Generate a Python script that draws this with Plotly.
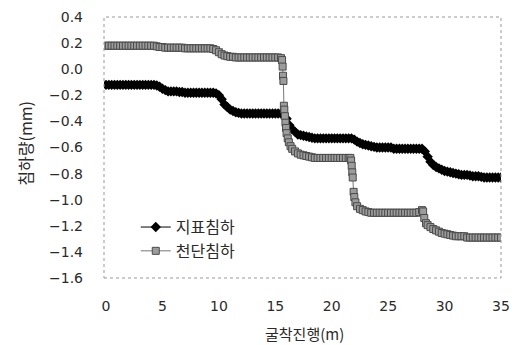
import plotly.graph_objects as go

# 지표침하 (surface settlement)
x_surface = [0, 0.25, 0.5, 0.75, 1, 1.25, 1.5, 1.75, 2, 2.25, 2.5, 2.75, 3, 3.25, 3.5, 3.75,
             4, 4.25, 4.5, 4.75, 5, 5.25, 5.5, 5.75, 6, 6.25, 6.5, 6.75, 7, 7.25, 7.5, 7.75,
             8, 8.25, 8.5, 8.75, 9, 9.25, 9.5, 9.75, 10, 10.25, 10.5, 10.75, 11, 11.25, 11.5, 11.75,
             12, 12.25, 12.5, 12.75, 13, 13.25, 13.5, 13.75, 14, 14.25, 14.5, 14.75,
             15, 15.25, 15.5, 15.75, 16, 16.25, 16.5, 16.75, 17, 17.25, 17.5, 17.75,
             18, 18.25, 18.5, 18.75, 19, 19.25, 19.5, 19.75, 20, 20.25, 20.5, 20.75,
             21, 21.25, 21.5, 21.75, 22, 22.25, 22.5, 22.75, 23, 23.25, 23.5, 23.75,
             24, 24.25, 24.5, 24.75, 25, 25.25, 25.5, 25.75, 26, 26.25, 26.5, 26.75,
             27, 27.25, 27.5, 27.75, 28, 28.25, 28.5, 28.75, 29, 29.25, 29.5, 29.75,
             30, 30.25, 30.5, 30.75, 31, 31.25, 31.5, 31.75, 32, 32.25, 32.5, 32.75,
             33, 33.25, 33.5, 33.75, 34, 34.25, 34.5, 34.75, 35]
y_surface = [-0.12, -0.12, -0.12, -0.12,
             -0.12, -0.12, -0.12, -0.12,
             -0.12, -0.12, -0.12, -0.12,
             -0.12, -0.12, -0.12, -0.12,
             -0.12, -0.12, -0.125, -0.135,
             -0.15, -0.16, -0.17, -0.17,
             -0.17, -0.17, -0.175, -0.175,
             -0.18, -0.18, -0.18, -0.18,
             -0.18, -0.18, -0.18, -0.18,
             -0.18, -0.18, -0.18, -0.185,
             -0.20, -0.23, -0.27, -0.29,
             -0.31, -0.32, -0.33, -0.335,
             -0.34, -0.34, -0.34, -0.34,
             -0.34, -0.34, -0.34, -0.34,
             -0.34, -0.34, -0.34, -0.34,
             -0.34, -0.34, -0.34, -0.35,
             -0.38, -0.43, -0.46, -0.48,
             -0.50, -0.505, -0.51, -0.515,
             -0.52, -0.525, -0.53, -0.53,
             -0.53, -0.53, -0.53, -0.53,
             -0.53, -0.53, -0.53, -0.53,
             -0.53, -0.53, -0.53, -0.53,
             -0.54, -0.555, -0.565, -0.575,
             -0.58, -0.585, -0.59, -0.595,
             -0.60, -0.60, -0.60, -0.60,
             -0.60, -0.60, -0.61, -0.61,
             -0.61, -0.61, -0.61, -0.61,
             -0.61, -0.61, -0.61, -0.61,
             -0.61, -0.63, -0.67, -0.71,
             -0.735, -0.75, -0.76, -0.77,
             -0.78, -0.785, -0.79, -0.795,
             -0.80, -0.805, -0.81, -0.81,
             -0.81, -0.815, -0.82, -0.82,
             -0.82, -0.825, -0.83, -0.83,
             -0.83, -0.83, -0.83, -0.83,
             -0.83]

# 천단침하 (crown settlement)
x_crown = [0, 0.25, 0.5, 0.75, 1, 1.25, 1.5, 1.75, 2, 2.25, 2.5, 2.75, 3, 3.25, 3.5, 3.75, 4, 4.25,
           4.5, 4.75, 5, 5.25, 5.5, 5.75, 6, 6.25, 6.5, 6.75,
           7, 7.25, 7.5, 7.75, 8, 8.25, 8.5, 8.75, 9, 9.25,
           9.5, 9.75, 10, 10.25, 10.5, 10.75, 11, 11.25,
           11.5, 11.75, 12, 12.25, 12.5, 12.75, 13, 13.25, 13.5, 13.75, 14, 14.25, 14.5, 14.75, 15, 15.25,
           15.5, 15.6, 15.65, 15.68, 15.72, 15.76, 15.8, 15.85, 15.9, 15.95, 16.0, 16.1, 16.2, 16.35,
           16.5, 16.75, 17, 17.25, 17.5, 17.75, 18, 18.25,
           18.5, 18.75, 19, 19.25, 19.5, 19.75, 20, 20.25, 20.5, 20.75, 21, 21.25, 21.5,
           21.65, 21.72, 21.77, 21.82, 21.86, 21.94, 22.0, 22.1, 22.25, 22.5, 22.75, 23, 23.25,
           23.5, 23.75, 24, 24.25, 24.5, 24.75, 25, 25.25, 25.5, 25.75, 26, 26.25, 26.5, 26.75, 27, 27.25, 27.5,
           27.75, 28, 28.1, 28.2, 28.35, 28.5, 28.75, 29, 29.25, 29.5, 29.75, 30, 30.25, 30.5, 30.75,
           31, 31.25, 31.5, 31.75,
           32, 32.25, 32.5, 32.75, 33, 33.25, 33.5, 33.75, 34, 34.25, 34.5, 34.75, 35]
y_crown = [0.18, 0.18, 0.18, 0.18, 0.18, 0.18, 0.18, 0.18, 0.18, 0.18, 0.18, 0.18, 0.18, 0.18, 0.18, 0.18, 0.18, 0.18,
           0.175, 0.17, 0.17, 0.165, 0.165, 0.165, 0.165, 0.165, 0.165, 0.165,
           0.16, 0.16, 0.16, 0.16, 0.16, 0.16, 0.16, 0.16, 0.16, 0.16,
           0.155, 0.145, 0.13, 0.115, 0.105, 0.10, 0.095, 0.095,
           0.09, 0.09, 0.09, 0.09, 0.09, 0.09, 0.09, 0.09, 0.09, 0.09, 0.09, 0.09, 0.09, 0.09, 0.09, 0.09,
           0.085, 0.07, 0.02, -0.05, -0.09, -0.28, -0.31, -0.36, -0.41, -0.45, -0.49, -0.53, -0.56, -0.59,
           -0.61, -0.63, -0.645, -0.655, -0.66, -0.665, -0.67, -0.675,
           -0.68, -0.68, -0.68, -0.68, -0.68, -0.68, -0.68, -0.68, -0.68, -0.68, -0.68, -0.68, -0.68,
           -0.68, -0.70, -0.74, -0.79, -0.83, -0.94, -0.98, -1.02, -1.05, -1.07, -1.08, -1.09, -1.095,
           -1.10, -1.10, -1.10, -1.10, -1.10, -1.10, -1.10, -1.10, -1.10, -1.10, -1.10, -1.10, -1.10, -1.10, -1.10, -1.10, -1.10,
           -1.095, -1.08, -1.09, -1.14, -1.18, -1.195, -1.21, -1.225, -1.235, -1.245, -1.255, -1.26, -1.265, -1.27, -1.275,
           -1.28, -1.28, -1.28, -1.28,
           -1.29, -1.29, -1.29, -1.29, -1.29, -1.29, -1.29, -1.29, -1.29, -1.29, -1.29, -1.29, -1.29]

assert len(x_surface) == len(y_surface), (len(x_surface), len(y_surface))
assert len(x_crown) == len(y_crown), (len(x_crown), len(y_crown))

x_ticks = [0, 5, 10, 15, 20, 25, 30, 35]
y_ticks = [0.4, 0.2, 0.0, -0.2, -0.4, -0.6, -0.8, -1.0, -1.2, -1.4, -1.6]
x_title = "굴착진행(m)"
y_title = "침하량(mm)"

TICK_FONT = "DejaVu Sans, Noto Sans CJK KR, sans-serif"
KR_FONT = "Noto Sans CJK KR, sans-serif"

fig = go.Figure()
fig.add_trace(go.Scatter(
    x=x_surface, y=y_surface, mode="lines+markers", name="지표침하",
    line=dict(color="black", width=1),
    marker=dict(symbol="diamond", size=8, color="black"),
))
fig.add_trace(go.Scatter(
    x=x_crown, y=y_crown, mode="lines+markers", name="천단침하",
    line=dict(color="#777777", width=1),
    marker=dict(symbol="square", size=7, color="#9c9c9c", line=dict(color="#4a4a4a", width=1)),
))

fig.add_shape(type="rect", xref="paper", yref="paper", x0=0, y0=0, x1=1, y1=1,
              line=dict(color="#999999", width=1, dash="dot"))

fig.add_annotation(text=x_title, xref="paper", yref="paper", x=0.506, y=-0.212,
                   xanchor="center", yanchor="middle", showarrow=False,
                   font=dict(size=15, family=KR_FONT, color="#2a2a2a"))
fig.add_annotation(text=y_title, xref="paper", yref="paper", x=-0.2, y=0.517,
                   xanchor="center", yanchor="middle", showarrow=False, textangle=-90,
                   font=dict(size=16, family=KR_FONT, color="#2a2a2a"))

fig.update_layout(
    width=524, height=345,
    margin=dict(l=104, r=23, t=17, b=67),
    paper_bgcolor="white", plot_bgcolor="white",
    font=dict(family=TICK_FONT, size=14, color="#2a2a2a"),
    showlegend=True,
    legend=dict(x=0.08, y=0.26, xanchor="left", yanchor="top",
                bgcolor="rgba(0,0,0,0)", font=dict(size=16, family=KR_FONT),
                tracegroupgap=2),
    xaxis=dict(range=[-0.18, 35.0], tickvals=x_ticks, ticks="", showgrid=False,
               zeroline=False, showline=False, ticklabelstandoff=18, automargin=False,
               tickfont=dict(family=TICK_FONT, size=14)),
    yaxis=dict(range=[-1.6, 0.4], tickvals=y_ticks, tickformat=".1f", ticks="",
               showgrid=False, zeroline=False, showline=False, ticklabelstandoff=20,
               automargin=False, tickfont=dict(family=TICK_FONT, size=14)),
)

fig.write_html("out.html")
